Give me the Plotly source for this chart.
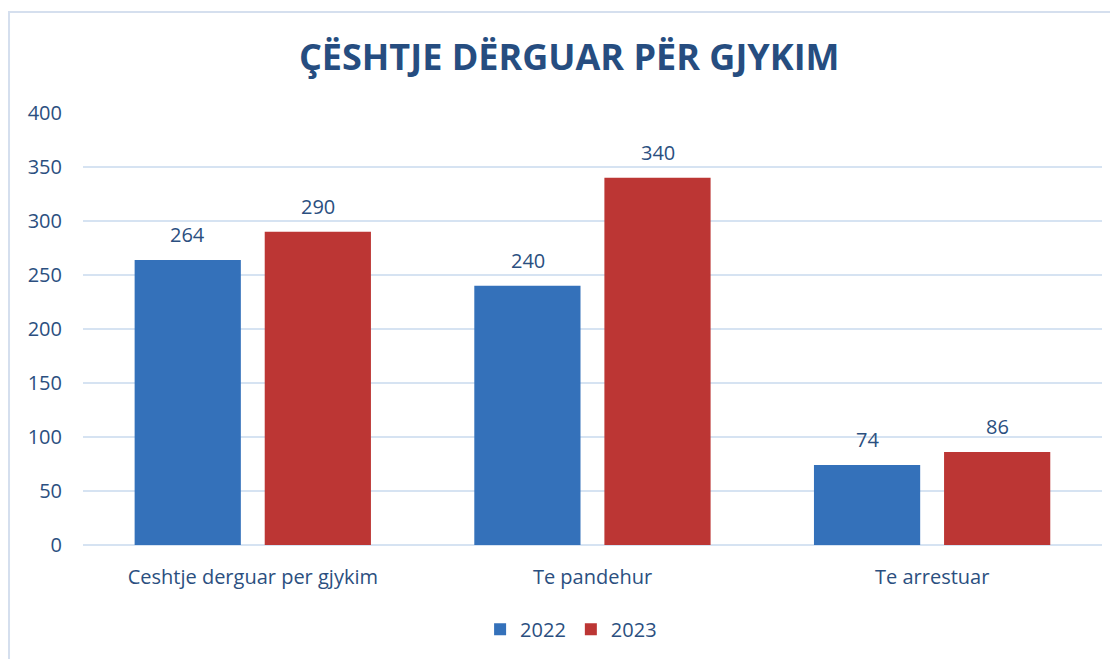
import plotly.graph_objects as go

categories = ["Ceshtje derguar per gjykim", "Te pandehur", "Te arrestuar"]
series_names = ["2022", "2023"]
values_2022 = [264, 240, 74]
values_2023 = [290, 340, 86]
title_text = "ÇËSHTJE DËRGUAR PËR GJYKIM"

TXT = "#2B4F80"
FONT = "Open Sans"

fig = go.Figure()
series = [
    (series_names[0], values_2022, "#3471BA", -0.348, -65),
    (series_names[1], values_2023, "#BC3634", 0.035, 65),
]
for name, vals, col, off, shift in series:
    fig.add_trace(go.Bar(
        x=categories, y=vals, name=name,
        marker=dict(color=col, line=dict(width=0)),
        width=0.3127, offset=off,
    ))
    for c, v in zip(categories, vals):
        fig.add_annotation(x=c, y=v, text=str(v), showarrow=False,
                           xshift=shift, yshift=10, yanchor="bottom",
                           font=dict(family=FONT, size=20, color=TXT))

fig.add_shape(type="rect", xref="paper", yref="paper",
              x0=-0.0726, y0=-0.6, x1=1.3, y1=1.2338,
              line=dict(color="#D5DFEE", width=2), fillcolor="rgba(0,0,0,0)",
              layer="below")

fig.update_layout(
    width=1118, height=659,
    margin=dict(l=75, r=24, t=105, b=122),
    paper_bgcolor="white", plot_bgcolor="white",
    barmode="group",
    title=dict(text="<b>" + title_text + "</b>", x=0.502, xanchor="center",
               y=0.925, yanchor="middle",
               font=dict(family=FONT, size=36, color="#264D80")),
    font=dict(family=FONT, size=20, color=TXT),
    showlegend=True,
    legend=dict(orientation="h", x=0.479, xanchor="center", y=-0.15, yanchor="top",
                font=dict(family=FONT, size=20, color=TXT), itemwidth=30,
                traceorder="normal"),
)
fig.update_xaxes(showgrid=False, showline=False, ticks="", ticklabelstandoff=18,
                 tickfont=dict(size=20, color=TXT))
fig.update_yaxes(range=[0, 400], dtick=50, showgrid=True, gridcolor="#D6E3F2", gridwidth=2,
                 zeroline=True, zerolinecolor="#D6E3F2", zerolinewidth=2,
                 showline=False, ticks="", ticklabelstandoff=20,
                 tickfont=dict(size=20, color=TXT))

fig.write_html("out.html")
